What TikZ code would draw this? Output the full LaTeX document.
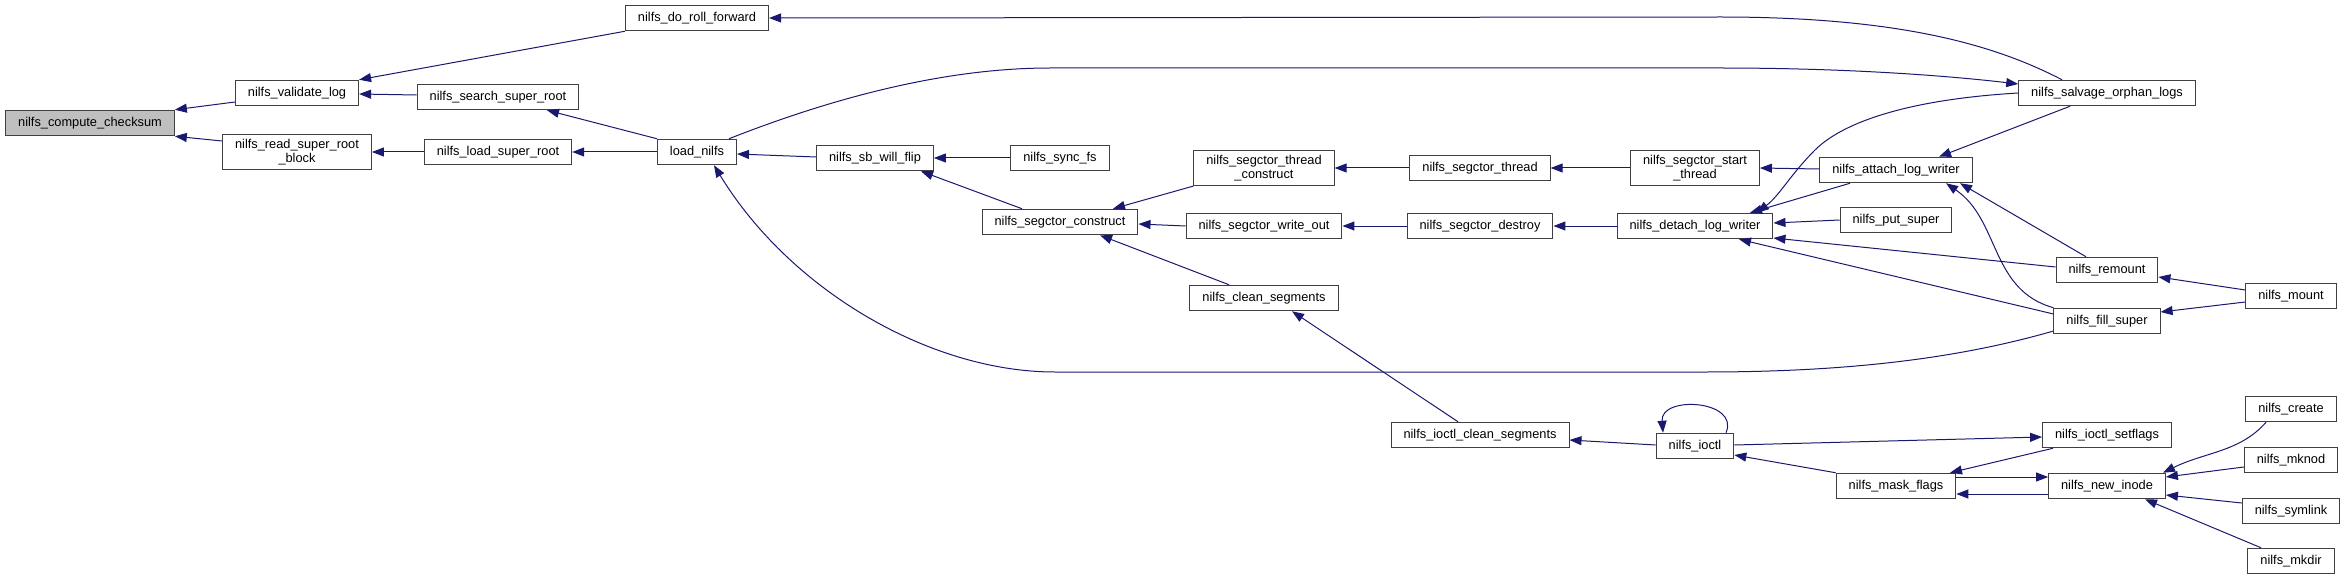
\documentclass[tikz,border=0pt]{standalone}
\usepackage{fontspec}
\setmainfont{Liberation Sans}
\usepackage{tikz}
\usetikzlibrary{arrows.meta}
\definecolor{EdgeNavy}{HTML}{191970}
\definecolor{BoxGray}{HTML}{BFBFBF}
\definecolor{BoxLine}{HTML}{404040}

\begin{document}
\begin{tikzpicture}[x=1pt, y=-1pt,
    fnbox/.style={draw=BoxLine, line width=1pt, fill=white, align=center,
      inner xsep=12.5pt, inner ysep=5pt, minimum height=25.5pt,
      font=\fontsize{12.8}{13.3}\selectfont},
    rootbox/.style={fnbox, fill=BoxGray},
    call/.style={draw=EdgeNavy, line width=1pt, -{Triangle[length=12pt, width=9pt]}}]
  \useasboundingbox (0,0) rectangle (2347,580);

  \node[rootbox] (checksum) at (90,123) {nilfs\_compute\_checksum};
  \node[fnbox] (validate) at (297,93) {nilfs\_validate\_log};
  \node[fnbox] (readsr) at (297,152) {nilfs\_read\_super\_root\\\_block};
  \node[fnbox] (search) at (498,97) {nilfs\_search\_super\_root};
  \node[fnbox] (loadsr) at (498,152) {nilfs\_load\_super\_root};
  \node[fnbox] (rollfwd) at (697,18) {nilfs\_do\_roll\_forward};
  \node[fnbox] (loadnilfs) at (697,152) {load\_nilfs};
  \node[fnbox] (sbflip) at (875,158) {nilfs\_sb\_will\_flip};
  \node[fnbox] (syncfs) at (1060,158) {nilfs\_sync\_fs};
  \node[fnbox] (segcons) at (1060,222) {nilfs\_segctor\_construct};
  \node[fnbox] (thrcons) at (1264,168) {nilfs\_segctor\_thread\\\_construct};
  \node[fnbox] (writeout) at (1264,226) {nilfs\_segctor\_write\_out};
  \node[fnbox] (cleanseg) at (1264,298) {nilfs\_clean\_segments};
  \node[fnbox] (segthread) at (1480,168) {nilfs\_segctor\_thread};
  \node[fnbox] (destroy) at (1480,226) {nilfs\_segctor\_destroy};
  \node[fnbox] (ioctlclean) at (1480,435) {nilfs\_ioctl\_clean\_segments};
  \node[fnbox] (startthr) at (1695,168) {nilfs\_segctor\_start\\\_thread};
  \node[fnbox] (detach) at (1695,226) {nilfs\_detach\_log\_writer};
  \node[fnbox] (ioctl) at (1695,446) {nilfs\_ioctl};
  \node[fnbox] (attach) at (1896,170) {nilfs\_attach\_log\_writer};
  \node[fnbox] (putsuper) at (1896,220) {nilfs\_put\_super};
  \node[fnbox] (maskflags) at (1896,486) {nilfs\_mask\_flags};
  \node[fnbox] (salvage) at (2107,93) {nilfs\_salvage\_orphan\_logs};
  \node[fnbox] (remount) at (2107,270) {nilfs\_remount};
  \node[fnbox] (fillsuper) at (2107,321) {nilfs\_fill\_super};
  \node[fnbox] (setflags) at (2107,435) {nilfs\_ioctl\_setflags};
  \node[fnbox] (newinode) at (2107,486) {nilfs\_new\_inode};
  \node[fnbox] (mount) at (2291,296) {nilfs\_mount};
  \node[fnbox] (create) at (2291,409) {nilfs\_create};
  \node[fnbox] (mknod) at (2291,460) {nilfs\_mknod};
  \node[fnbox] (symlink) at (2291,511) {nilfs\_symlink};
  \node[fnbox] (mkdir) at (2291,561) {nilfs\_mkdir};

  \draw[call] ([yshift=-9pt]validate.west) -- (checksum.north east);
  \draw[call] ([yshift=11pt]readsr.west) -- (checksum.south east);
  \draw[call] (rollfwd.south west) -- (validate.north east);
  \draw[call] ([yshift=2pt]search.west) -- ([yshift=-1pt]validate.east);
  \draw[call] (loadsr.west) -- (readsr.east);
  \draw[call] (loadnilfs.north west) -- ([xshift=49pt]search.south);
  \draw[call] (loadnilfs.west) -- (loadsr.east);
  \draw[call] ([xshift=-45pt]salvage.north) .. controls (1995,45) and (1900,17) .. (1720,17) -- (rollfwd.east);
  \draw[call] ([xshift=32pt]loadnilfs.north) .. controls (840,95) and (950,68) .. (1050,68) -- (1720,68)
    .. controls (1850,68) and (1950,76) .. ([yshift=9pt]salvage.west);
  \draw[call] ([yshift=-10pt]fillsuper.west) .. controls (1960,358) and (1850,372) .. (1705,372) -- (1055,372)
    .. controls (930,372) and (790,290) .. ([xshift=17pt]loadnilfs.south);
  \draw[call] ([yshift=1pt]sbflip.west) -- ([yshift=-2pt]loadnilfs.east);
  \draw[call] (syncfs.west) -- (sbflip.east);
  \draw[call] ([xshift=-38pt]segcons.north) -- ([xshift=46pt]sbflip.south);
  \draw[call] (thrcons.south west) -- ([xshift=53pt]segcons.north);
  \draw[call] (writeout.west) -- ([yshift=-2pt]segcons.east);
  \draw[call] ([xshift=-35pt]cleanseg.north) -- ([xshift=40pt]segcons.south);
  \draw[call] (segthread.west) -- (thrcons.east);
  \draw[call] (startthr.west) -- (segthread.east);
  \draw[call] ([yshift=1pt]attach.west) -- (startthr.east);
  \draw[call] (destroy.west) -- (writeout.east);
  \draw[call] (detach.west) -- (destroy.east);
  \draw[call] (salvage.west) .. controls (1900,100) and (1840,125) .. (1815,150)
    .. controls (1790,175) and (1780,195) .. ([xshift=62pt]detach.north);
  \draw[call] ([xshift=-37pt]salvage.south) -- ([xshift=43pt]attach.north);
  \draw[call] ([xshift=-46pt]attach.south) -- ([xshift=55pt]detach.north);
  \draw[call] (putsuper.west) -- ([yshift=3pt]detach.east);
  \draw[call] ([yshift=3pt]remount.west) -- ([yshift=-12pt]detach.east);
  \draw[call] ([yshift=7pt]fillsuper.west) -- ([xshift=44pt]detach.south);
  \draw[call] ([xshift=-21pt]remount.north) -- ([xshift=64pt]attach.south);
  \draw[call] (fillsuper.north west) .. controls (1990,290) and (2000,220) .. ([xshift=50pt]attach.south);
  \draw[call] ([yshift=6pt]mount.west) -- ([yshift=-7pt]remount.east);
  \draw[call] ([yshift=-6pt]mount.west) -- ([yshift=9pt]fillsuper.east);

  \draw[call] ([xshift=-22pt]ioctlclean.north) -- ([xshift=28pt]cleanseg.south);
  \draw[call] ([yshift=1pt]ioctl.west) -- ([yshift=-5pt]ioctlclean.east);
  \draw[call] ([xshift=31pt]ioctl.north) .. controls (1740,400) and (1660,395) .. ([xshift=-32pt]ioctl.north);
  \draw[call] ([yshift=1pt]ioctl.east) -- ([yshift=-2pt]setflags.west);
  \draw[call] (maskflags.north west) -- ([yshift=-9pt]ioctl.east);
  \draw[call] ([xshift=-54pt]setflags.south) -- ([xshift=54pt]maskflags.north);
  \draw[call] ([yshift=9pt]maskflags.east) -- ([yshift=9pt]newinode.west);
  \draw[call] ([yshift=-8pt]newinode.west) -- ([yshift=-8pt]maskflags.east);
  \draw[call] ([xshift=-25pt]create.south) .. controls (2240,452) and (2205,452) .. ([xshift=56pt]newinode.north);
  \draw[call] ([yshift=-7pt]mknod.west) -- ([yshift=9pt]newinode.east);
  \draw[call] ([yshift=8pt]symlink.west) -- ([yshift=-9pt]newinode.east);
  \draw[call] ([xshift=-30pt]mkdir.north) -- ([xshift=38pt]newinode.south);
\end{tikzpicture}
\end{document}
